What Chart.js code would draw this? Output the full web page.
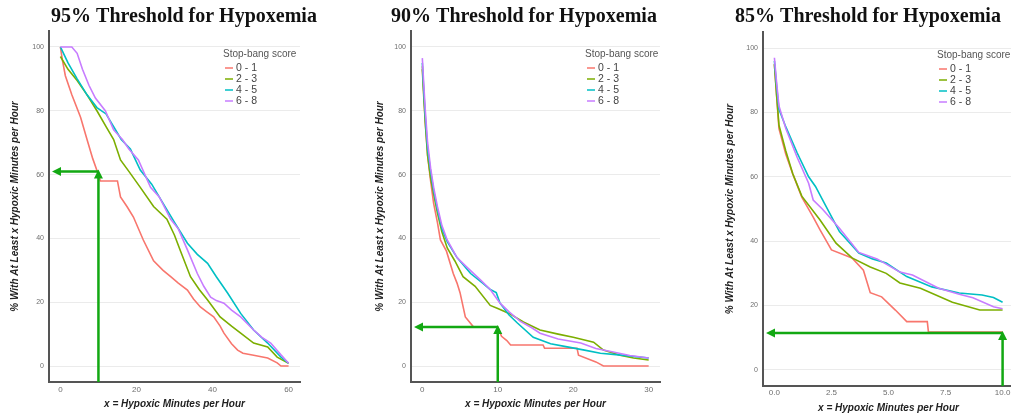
<!DOCTYPE html>
<html>
<head>
<meta charset="utf-8">
<script src="https://cdn.jsdelivr.net/npm/chart.js@4.4.1/dist/chart.umd.min.js"></script>
<style>
  body { margin: 0; width: 1011px; height: 417px; overflow: hidden; background: #fff; position: relative; }
  canvas { position: absolute; top: 0; }
</style>
</head>
<body>
<canvas id="c95" width="340" height="417" style="left:0px"></canvas>
<canvas id="c90" width="340" height="417" style="left:340px"></canvas>
<canvas id="c85" width="345" height="417" style="left:680px"></canvas>
<script>
// series labels / colours (ggplot hue palette)
const scoreLabels = ["0 - 1", "2 - 3", "4 - 5", "6 - 8"];
const scoreColors = ["#F8766D", "#7CAE00", "#00BFC4", "#C77CFF"];
const legendTitle = "Stop-bang score";

const panelTitles = [
  "95% Threshold for Hypoxemia",
  "90% Threshold for Hypoxemia",
  "85% Threshold for Hypoxemia",
];
const xAxisTitle = "x = Hypoxic Minutes per Hour";
const yAxisTitle = "% With At Least x Hypoxic Minutes per Hour";

const yTicks = [0, 20, 40, 60, 80, 100];
const xTicks95 = [0, 20, 40, 60];
const xTicks90 = [0, 10, 20, 30];
const xTicks85 = [0, 2.5, 5, 7.5, 10];
const xLabels95 = ["0", "20", "40", "60"];
const xLabels90 = ["0", "10", "20", "30"];
const xLabels85 = ["0.0", "2.5", "5.0", "7.5", "10.0"];

const arrowX = [10, 10, 10];
const arrowY = [61, 12.2, 11.5];

// 95% threshold, [minutes, percent]
const p95_01 = [[0,100],[0.5,96],[1.3,91],[3,85],[5.3,78],[7,71],[8.5,65],[9.7,61],[10.5,58],[15,58],[15.8,53],[17.5,50],[19.2,46.7],[21.8,39.5],[24.5,33],[27,30],[29,28],[31,26],[33.4,23.8],[35,21],[36.8,18.5],[38.5,17],[40.3,15.4],[42,12.5],[43,10.3],[45,7],[46.6,5],[48,4],[50.8,3.4],[54.5,2.5],[57,1],[58,0],[60,0]];
const p95_23 = [[0,97],[2,93],[4.4,89.5],[7,85],[9.6,80],[12,75],[14,71],[15.8,64.6],[18,61],[21,56],[24.5,50],[28,46],[30,41],[31.6,36],[34.2,28],[36.5,24],[38.7,20.7],[42,15.4],[45,12.5],[47.4,10.3],[50.8,7.2],[54.5,6],[57,2.8],[60,0.9]];
const p95_45 = [[0,100],[2,95],[4.4,90],[7,85],[9.6,81],[12,79],[14,75],[16,71],[18.4,68],[21,61.4],[24,57],[27,51],[30,45],[33.4,38.5],[36,35],[38.7,32.2],[41,28],[44,22.8],[47.4,16.5],[50.8,11.3],[54.5,7.2],[58,2.8],[60,0.9]];
const p95_68 = [[0,100],[3,100],[4.4,98],[5.8,93],[7.5,88],[9.2,84],[11.8,80],[14,74],[16.3,71],[18,68],[20.5,64.6],[23.7,56],[26,53],[29,46],[31,43],[33.4,36.4],[36,29],[37.7,25],[39.5,21.6],[41,20.5],[43,19.7],[45,17.5],[47.4,15.4],[50.8,11.3],[53,9],[55.3,7.2],[58,3.5],[60,0.9]];

// 90% threshold
const p90_01 = [[0,94],[0.2,85],[0.4,76],[0.7,66],[1.1,58],[1.5,51],[2,45],[2.4,39.5],[3.2,36],[4.1,29],[4.6,26],[5,23],[5.7,15.4],[6.8,12.2],[10,12.2],[10.5,9.3],[11.2,8],[11.7,6.6],[16,6.6],[16.2,5.6],[20.5,5.6],[20.7,3.4],[23,1.3],[24,0],[30,0]];
const p90_23 = [[0,93],[0.2,84],[0.4,76],[0.7,66],[1.1,59],[1.5,54],[2,48],[2.6,42],[3.3,37],[4.3,33],[5.4,28],[7,25],[9,19],[10,18],[11.5,16.5],[13.4,13.8],[15.6,11.3],[18,10],[20,9],[22.7,7.5],[24,5],[26.2,3.4],[28,2.5],[30,1.9]];
const p90_45 = [[0,95],[0.2,86],[0.4,78],[0.7,68],[1.1,61],[1.5,55],[2,49],[2.6,43],[3.3,39],[4.6,34],[6.4,29],[8,26],[9,24],[9.8,23],[10.3,19.7],[11.5,16],[12.6,13.5],[14.7,9],[17,7],[19.2,6],[21.5,5],[23.6,4],[26,3.5],[30,2.5]];
const p90_68 = [[0,96.5],[0.2,88],[0.4,80],[0.7,70],[1.1,62],[1.5,56],[2,50],[2.6,44],[3.3,39.5],[4.6,34],[5.9,31],[7.7,27],[9,24],[10.3,19.7],[11.5,17],[13,14],[14.5,12],[15.6,10.3],[18,8.5],[21,7.2],[23,5.5],[25.3,4.4],[27.5,3.3],[30,2.5]];

// 85% threshold
const p85_01 = [[0,95],[0.1,85],[0.2,75],[0.5,67],[0.8,61],[1.2,53.7],[1.7,47.5],[2,43.5],[2.5,37.3],[3.4,34.8],[3.9,31],[4.2,24],[4.7,22.7],[5.3,18.6],[5.8,15],[6.7,15],[6.75,11.8],[10,11.8]];
const p85_23 = [[0,95],[0.1,85],[0.2,76],[0.5,68],[0.8,61],[1.2,54],[2,46.6],[2.7,39.4],[3.4,34.8],[4.2,32],[4.9,30],[5.5,27],[6.4,25.4],[7.8,21],[9,18.6],[10,18.6]];
const p85_45 = [[0,96],[0.1,88],[0.2,81],[0.5,75.5],[1,67.4],[1.5,60],[1.8,57],[2.1,53],[2.85,43],[3.7,36.3],[4.3,34.5],[4.9,33.2],[5.8,29],[6.9,25.8],[8.1,23.9],[9.1,23.3],[9.6,22.5],[10,21]];
const p85_68 = [[0,97],[0.1,89],[0.2,82],[0.5,75],[1,66],[1.5,58],[1.7,52.8],[2.1,50],[2.85,44],[3.7,36.5],[4.5,34.5],[5.5,30.4],[6.05,29.5],[7.2,25.4],[8.1,23.5],[8.7,22.4],[9.6,19.6],[10,19]];

const SANS = "'Liberation Sans', Arial, sans-serif";
Chart.defaults.font.family = SANS;

const panelTitle = {
  id: "panelTitle",
  afterDraw(chart, args, opts) {
    const ctx = chart.ctx;
    ctx.save();
    ctx.font = "bold 20px 'Liberation Serif', 'Times New Roman', serif";
    ctx.fillStyle = "#111";
    ctx.textAlign = "center";
    ctx.textBaseline = "alphabetic";
    ctx.fillText(opts.text, opts.x, 22);
    ctx.restore();
  },
};

const scoreLegend = {
  id: "scoreLegend",
  afterDraw(chart) {
    const { ctx, chartArea } = chart;
    const x = chartArea.left + 174;
    const y = chartArea.top + 23;
    ctx.save();
    ctx.textBaseline = "middle";
    ctx.textAlign = "left";
    ctx.font = "10px " + SANS;
    ctx.fillStyle = "#555";
    ctx.fillText(legendTitle, x, y);
    ctx.font = "10.5px " + SANS;
    chart.data.datasets.forEach((ds, i) => {
      const yy = y + 14 + i * 11;
      ctx.strokeStyle = ds.borderColor;
      ctx.lineWidth = 1.5;
      ctx.beginPath();
      ctx.moveTo(x + 2, yy);
      ctx.lineTo(x + 10, yy);
      ctx.stroke();
      ctx.fillStyle = "#444";
      ctx.fillText(ds.label, x + 13, yy);
    });
    ctx.restore();
  },
};

const guideArrow = {
  id: "guideArrow",
  afterDatasetsDraw(chart, args, opts) {
    const { ctx, chartArea, scales } = chart;
    const x = scales.x.getPixelForValue(opts.x);
    const y = scales.y.getPixelForValue(opts.y);
    const left = chartArea.left + 3;
    ctx.save();
    ctx.strokeStyle = "#12a812";
    ctx.fillStyle = "#12a812";
    ctx.lineWidth = 2.5;
    ctx.beginPath();
    ctx.moveTo(x, chartArea.bottom);
    ctx.lineTo(x, y + 5);
    ctx.moveTo(x, y);
    ctx.lineTo(left + 6, y);
    ctx.stroke();
    ctx.beginPath();
    ctx.moveTo(x, y - 2);
    ctx.lineTo(x - 4.5, y + 7);
    ctx.lineTo(x + 4.5, y + 7);
    ctx.closePath();
    ctx.moveTo(left, y);
    ctx.lineTo(left + 9, y - 4.5);
    ctx.lineTo(left + 9, y + 4.5);
    ctx.closePath();
    ctx.fill();
    ctx.restore();
  },
};

function makePanel(id, p) {
  new Chart(document.getElementById(id), {
    type: "line",
    data: {
      datasets: p.series.map((pts, i) => ({
        label: scoreLabels[i],
        data: pts.map(([x, y]) => ({ x, y })),
        borderColor: scoreColors[i],
        borderWidth: 1.6,
        pointRadius: 0,
        tension: 0,
        fill: false,
        order: 3 - i,
      })),
    },
    options: {
      responsive: false,
      animation: false,
      events: [],
      layout: {
        padding: { left: 0, top: p.top, right: p.width - p.right, bottom: 417 - p.bottom - p.xH },
      },
      plugins: {
        legend: { display: false },
        tooltip: { enabled: false },
        title: { display: false },
        panelTitle: { text: p.title, x: p.titleX },
        guideArrow: { x: p.arrowX, y: p.arrowY },
      },
      scales: {
        x: {
          type: "linear",
          min: p.xMin,
          max: p.xMax,
          afterBuildTicks: (s) => {
            s.ticks = p.xTicks.map((v) => ({ value: v }));
          },
          afterFit: (s) => {
            s.height = p.xH;
          },
          ticks: {
            callback: (v, i) => p.xLabels[i],
            font: { size: 8 },
            color: "#6e6e6e",
            padding: p.xTickPad,
            maxRotation: 0,
            autoSkip: false,
          },
          grid: { display: false, drawTicks: false },
          border: { display: true, color: "#555", width: 2 },
          title: {
            display: true,
            text: xAxisTitle,
            color: "#222",
            font: { size: 10, weight: "bold", style: "italic" },
            padding: { top: 0, bottom: p.xTitlePad },
          },
        },
        y: {
          min: -5,
          max: 105,
          afterBuildTicks: (s) => {
            s.ticks = yTicks.map((v) => ({ value: v }));
          },
          afterFit: (s) => {
            s.width = p.left;
          },
          ticks: { font: { size: 7 }, color: "#6e6e6e", padding: 5 },
          grid: { color: "#ebebeb", lineWidth: 1, drawTicks: false },
          border: { display: true, color: "#555", width: 2 },
          title: {
            display: true,
            text: yAxisTitle,
            color: "#222",
            font: { size: 10, weight: "bold", style: "italic" },
            padding: { top: p.yTitlePad, bottom: 0 },
          },
        },
      },
    },
    plugins: [panelTitle, scoreLegend, guideArrow],
  });
}

makePanel("c95", {
  title: panelTitles[0], titleX: 184, width: 340,
  left: 49, right: 300, top: 31, bottom: 382, xH: 35,
  xMin: -3, xMax: 63, xTicks: xTicks95, xLabels: xLabels95,
  xTickPad: 3, xTitlePad: 7, yTitlePad: 9,
  arrowX: arrowX[0], arrowY: arrowY[0],
  series: [p95_01, p95_23, p95_45, p95_68],
});

makePanel("c90", {
  title: panelTitles[1], titleX: 184, width: 340,
  left: 71, right: 320, top: 31, bottom: 382, xH: 35,
  xMin: -1.5, xMax: 31.5, xTicks: xTicks90, xLabels: xLabels90,
  xTickPad: 3, xTitlePad: 7, yTitlePad: 34,
  arrowX: arrowX[1], arrowY: arrowY[1],
  series: [p90_01, p90_23, p90_45, p90_68],
});

makePanel("c85", {
  title: panelTitles[2], titleX: 188, width: 345,
  left: 83, right: 334, top: 32, bottom: 386, xH: 31,
  xMin: -0.5, xMax: 10.5, xTicks: xTicks85, xLabels: xLabels85,
  xTickPad: 2, xTitlePad: 3, yTitlePad: 44,
  arrowX: arrowX[2], arrowY: arrowY[2],
  series: [p85_01, p85_23, p85_45, p85_68],
});
</script>
</body>
</html>
